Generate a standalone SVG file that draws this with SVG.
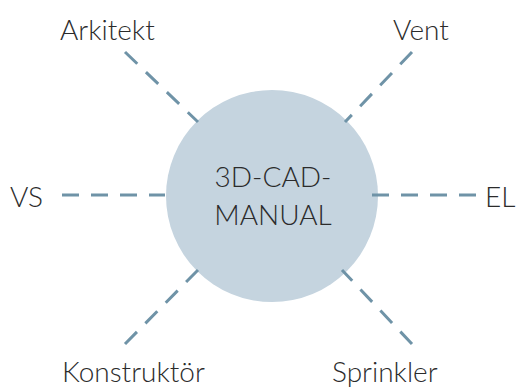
<svg xmlns="http://www.w3.org/2000/svg" width="532" height="387" viewBox="0 0 532 387">
  <style>
    .lbl { font-family: "Lato", "Open Sans", sans-serif; font-size: 28px; font-weight: 300; fill: #2b2b2b; }
    .link { stroke: #6f93a7; stroke-width: 3; stroke-dasharray: 17 12; fill: none; }
  </style>
  <rect width="532" height="387" fill="#ffffff"/>
  <g id="hub">
    <circle cx="272" cy="196" r="106" fill="#c5d4df"/>
    <text class="lbl" x="273" y="187" text-anchor="middle">3D-CAD-</text>
    <text class="lbl" x="273" y="225" text-anchor="middle">MANUAL</text>
  </g>
  <g id="connectors">
    <line class="link" x1="125" y1="52" x2="198" y2="122"/>
    <line class="link" x1="412" y1="52" x2="345" y2="122"/>
    <line class="link" x1="62" y1="195" x2="165" y2="195"/>
    <line class="link" x1="372" y1="195" x2="476" y2="195"/>
    <line class="link" x1="125" y1="344" x2="198" y2="270"/>
    <line class="link" x1="412" y1="344" x2="342" y2="270"/>
  </g>
  <g id="arkitekt"><text class="lbl" x="60" y="40">Arkitekt</text></g>
  <g id="vent"><text class="lbl" x="393" y="40">Vent</text></g>
  <g id="vs"><text class="lbl" x="10" y="207">VS</text></g>
  <g id="el"><text class="lbl" x="485" y="207">EL</text></g>
  <g id="konstruktor"><text class="lbl" x="62" y="382">Konstruktör</text></g>
  <g id="sprinkler"><text class="lbl" x="332" y="382">Sprinkler</text></g>
</svg>
